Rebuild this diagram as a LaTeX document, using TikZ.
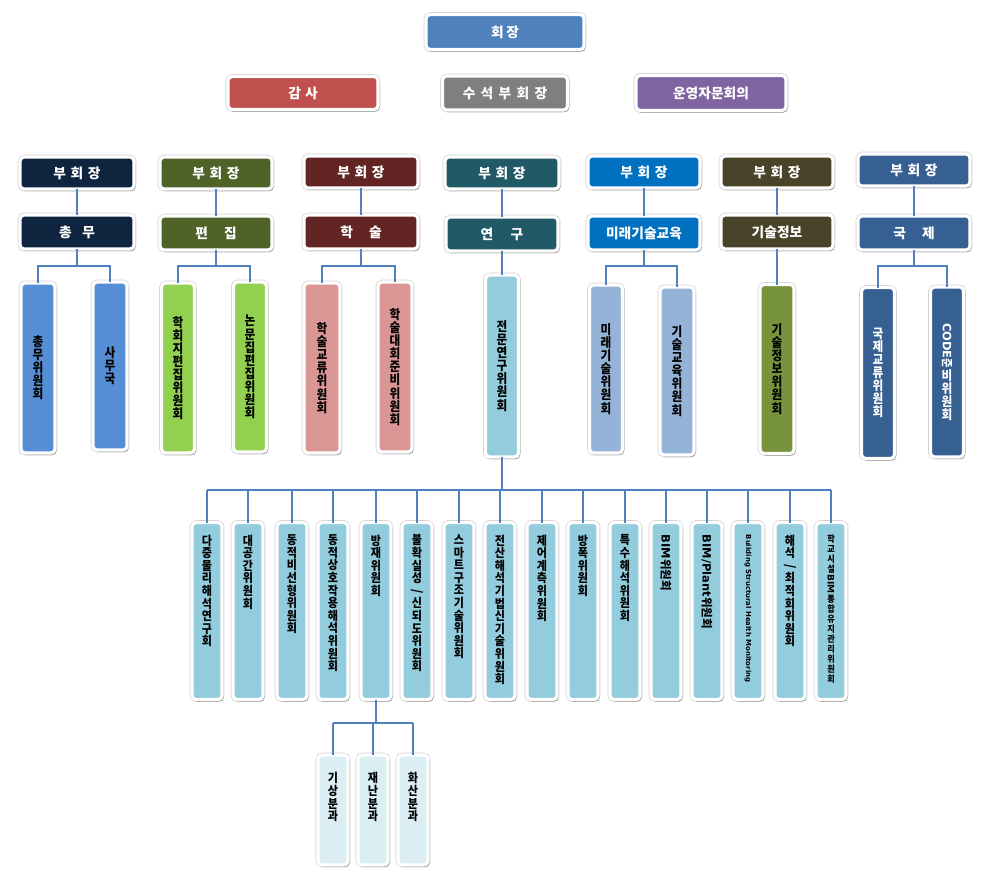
\documentclass[tikz,border=0pt]{standalone}
\usepackage{fontspec}
\setmainfont{Noto Sans CJK KR}
\newfontfamily\vf[FakeStretch=0.9]{Noto Sans CJK KR}
\newfontfamily\lat{DejaVu Sans}
\usepackage{graphicx}
\usetikzlibrary{shadows}
\definecolor{cPres}{HTML}{4F81BD}
\definecolor{cAudit}{HTML}{C0504D}
\definecolor{cSvp}{HTML}{7F7F7F}
\definecolor{cAdv}{HTML}{8064A2}
\definecolor{cA}{HTML}{0F243E}
\definecolor{cB}{HTML}{4F6228}
\definecolor{cC}{HTML}{632523}
\definecolor{cD}{HTML}{215967}
\definecolor{cE}{HTML}{0070C0}
\definecolor{cF}{HTML}{494429}
\definecolor{cG}{HTML}{376092}
\definecolor{kA}{HTML}{558ED5}
\definecolor{kB}{HTML}{92D050}
\definecolor{kC}{HTML}{DA9694}
\definecolor{kD}{HTML}{93CDDD}
\definecolor{kE}{HTML}{95B3D7}
\definecolor{kF}{HTML}{77933C}
\definecolor{kG}{HTML}{366092}
\definecolor{kS}{HTML}{DBEEF4}
\definecolor{lineC}{HTML}{4F81BD}
\newcommand\rv[1]{\rotatebox[origin=c]{-90}{#1}}
\newcommand\gp[1]{\hspace{#1pt}}
\begin{document}
\begin{tikzpicture}[x=0.75pt,y=-0.75pt,
  box/.style={draw=white, line width=2.4pt, rounded corners=3pt, inner sep=0pt, outer sep=0pt,
    preaction={draw=black!18, line width=3.4pt},
    drop shadow={shadow xshift=1.2pt, shadow yshift=-1.6pt, opacity=0.3, fill=black}},
  sz/.style 2 args={minimum width=#1*0.75pt, minimum height=#2*0.75pt},
  ht/.style={box, text=white, font=\bfseries\fontsize{10.3}{12}\selectfont},
  vt/.style={box, align=center, text=black, font=\vf\bfseries\fontsize{9.7}{9.8}\selectfont},
  bt/.style={box, sz={30}{177}, fill=kD},
  st/.style={box, sz={30}{110}, fill=kS},
  lb/.style={align=center, anchor=north, inner sep=0pt, yshift=-9pt, text=black,
    font=\vf\bfseries\fontsize{9.2}{9.45}\selectfont},
  rl/.style={lb, font=\bfseries\fontsize{8.6}{9.45}\selectfont},
  conn/.style={draw=lineC, line width=0.9pt}
]
\fill[white] (0,0) rectangle (985,874);
\useasboundingbox (0,0) rectangle (985,874);

% top
\node[ht, sz={158}{35}, fill=cPres] (pres) at (505,32) {회\gp{2}장};
\node[ht, sz={150}{33}, fill=cAudit] (audit) at (303,93) {감\gp{3}사};
\node[ht, sz={125}{34}, fill=cSvp] (svp) at (505,93) {수\gp{4}석\gp{4}부\gp{4}회\gp{4}장};
\node[ht, sz={150}{35}, fill=cAdv] (adv) at (711,93) {운영자문회의};

% vice presidents
\node[ht, sz={114}{32}, fill=cA] (vp1) at (77,173) {부\gp{3.5}회\gp{3.5}장};
\node[ht, sz={112}{32}, fill=cB] (vp2) at (216,173) {부\gp{3.5}회\gp{3.5}장};
\node[ht, sz={114}{32}, fill=cC] (vp3) at (361,172) {부\gp{3.5}회\gp{3.5}장};
\node[ht, sz={114}{32}, fill=cD] (vp4) at (502,173) {부\gp{3.5}회\gp{3.5}장};
\node[ht, sz={112}{32}, fill=cE] (vp5) at (644,172) {부\gp{3.5}회\gp{3.5}장};
\node[ht, sz={112}{32}, fill=cF] (vp6) at (777,172) {부\gp{3.5}회\gp{3.5}장};
\node[ht, sz={112}{32}, fill=cG] (vp7) at (914,170) {부\gp{3.5}회\gp{3.5}장};

% divisions
\node[ht, sz={114}{34}, fill=cA] (g1) at (77,232) {총\gp{8}무};
\node[ht, sz={112}{34}, fill=cB] (g2) at (216,233) {편\gp{12}집};
\node[ht, sz={114}{34}, fill=cC] (g3) at (361,232) {학\gp{12}술};
\node[ht, sz={112}{34}, fill=cD] (g4) at (502,234) {연\gp{13}구};
\node[ht, sz={112}{34}, fill=cE] (g5) at (644,233) {미래기술교육};
\node[ht, sz={112}{34}, fill=cF] (g6) at (777,232) {기술정보};
\node[ht, sz={112}{34}, fill=cG] (g7) at (914,233) {국\gp{12}제};

% committees
\node[vt, sz={34}{170}, fill=kA] (c11) at (38,368) {총\\무\\위\\원\\회};
\node[vt, sz={34}{168}, fill=kA] (c12) at (110,366) {사\\무\\국};
\node[vt, sz={33}{170}, fill=kB] (c21) at (178,368) {학\\회\\지\\편\\집\\위\\원\\회};
\node[vt, sz={33}{170}, fill=kB] (c22) at (250,367) {논\\문\\집\\편\\집\\위\\원\\회};
\node[vt, sz={36}{170}, fill=kC] (c31) at (322,368) {학\\술\\교\\류\\위\\원\\회};
\node[vt, sz={34}{170}, fill=kC] (c32) at (395,367) {학\\술\\대\\회\\준\\비\\위\\원\\회};
\node[vt, sz={33}{182}, fill=kD] (c41) at (502,366) {전\\문\\연\\구\\위\\원\\회};
\node[vt, sz={33}{168}, fill=kE] (c51) at (606,369) {미\\래\\기\\술\\위\\원\\회};
\node[vt, sz={34}{168}, fill=kE] (c52) at (677,371) {기\\술\\교\\육\\위\\원\\회};
\node[vt, sz={34}{169}, fill=kF] (c61) at (777,369) {기\\술\\정\\보\\위\\원\\회};
\node[vt, sz={33}{171}, fill=kG, text=white] (c71) at (878,373) {국\\제\\교\\류\\위\\원\\회};
\node[vt, sz={33}{170}, fill=kG, text=white] (c72) at (947,372) {\rv{\fontsize{8.6}{9.8}\selectfont{\lat CODE}준}\\비\\위\\원\\회};

% research committees
\node[bt, label={[lb]north:{다\\중\\물\\리\\해\\석\\연\\구\\회}}] (b1) at (207,611) {};
\node[bt, label={[lb]north:{대\\공\\간\\위\\원\\회}}] (b2) at (248,611) {};
\node[bt, label={[lb]north:{동\\적\\비\\선\\형\\위\\원\\회}}] (b3) at (292,611) {};
\node[bt, label={[lb]north:{동\\적\\상\\호\\작\\용\\해\\석\\위\\원\\회}}] (b4) at (333,611) {};
\node[bt, label={[lb]north:{방\\재\\위\\원\\회}}] (b5) at (376,611) {};
\node[bt, label={[lb]north:{불\\확\\실\\성\\\rv{/}\\신\\되\\도\\위\\원\\회}}] (b6) at (417,611) {};
\node[bt, label={[lb]north:{스\\마\\트\\구\\조\\기\\술\\위\\원\\회}}] (b7) at (459,611) {};
\node[bt, label={[lb]north:{전\\산\\해\\석\\기\\법\\신\\기\\술\\위\\원\\회}}] (b8) at (500,611) {};
\node[bt, label={[lb]north:{제\\어\\계\\측\\위\\원\\회}}] (b9) at (542,611) {};
\node[bt, label={[lb]north:{방\\폭\\위\\원\\회}}] (b10) at (583,611) {};
\node[bt, label={[lb]north:{특\\수\\해\\석\\위\\원\\회}}] (b11) at (625,611) {};
\node[bt, label={[rl]north:{\rv{{\lat BIM}위원회}}}] (b12) at (666,611) {};
\node[bt, label={[rl]north:{\rv{{\lat BIM/Plant}위원회}}}] (b13) at (707,611) {};
\node[bt, label={[rl, font=\lat\bfseries\fontsize{5.2}{6}\selectfont]north:{\rv{Building Structural Health Monitoring}}}] (b14) at (748,611) {};
\node[bt, label={[lb]north:{해\\석\\\rv{/}\\최\\적\\회\\위\\원\\회}}] (b15) at (790,611) {};
\node[bt, label={[lb, font=\vf\bfseries\fontsize{6.8}{7.5}\selectfont]north:{학\\교\\시\\설\\\rv{\lat BIM}\\통\\합\\유\\지\\관\\리\\위\\원\\회}}] (b16) at (831,611) {};

% sub groups
\node[st, label={[lb, yshift=-4pt]north:{기\\상\\분\\과}}] (s1) at (333,810) {};
\node[st, label={[lb, yshift=-4pt]north:{재\\난\\분\\과}}] (s2) at (373,810) {};
\node[st, label={[lb, yshift=-4pt]north:{화\\산\\분\\과}}] (s3) at (413,810) {};

% connectors
\foreach \i in {1,...,7} \draw[conn] (vp\i.south) -- (g\i.north);
\coordinate (j1) at (77,266);
\coordinate (j2) at (216,266);
\coordinate (j3) at (361,266);
\coordinate (j5) at (644,266);
\coordinate (j7) at (914,266);
\draw[conn] (g1.south) -- (j1);
\draw[conn] (c11.north) -- (c11.north |- j1) -- (c12.north |- j1) -- (c12.north);
\draw[conn] (g2.south) -- (j2);
\draw[conn] (c21.north) -- (c21.north |- j2) -- (c22.north |- j2) -- (c22.north);
\draw[conn] (g3.south) -- (j3);
\draw[conn] (c31.north) -- (c31.north |- j3) -- (c32.north |- j3) -- (c32.north);
\draw[conn] (g4.south) -- (c41.north);
\draw[conn] (g5.south) -- (j5);
\draw[conn] (c51.north) -- (c51.north |- j5) -- (c52.north |- j5) -- (c52.north);
\draw[conn] (g6.south) -- (c61.north);
\draw[conn] (g7.south) -- (j7);
\draw[conn] (c71.north) -- (c71.north |- j7) -- (c72.north |- j7) -- (c72.north);

\coordinate (bus) at (502,490);
\draw[conn] (c41.south) -- (bus);
\draw[conn] (b1.north |- bus) -- (b16.north |- bus);
\foreach \i in {1,...,16} \draw[conn] (b\i.north) -- (b\i.north |- bus);

\coordinate (sb) at (376,723);
\draw[conn] (b5.south) -- (sb);
\draw[conn] (s1.north |- sb) -- (s3.north |- sb);
\foreach \i in {1,2,3} \draw[conn] (s\i.north) -- (s\i.north |- sb);
\end{tikzpicture}
\end{document}
